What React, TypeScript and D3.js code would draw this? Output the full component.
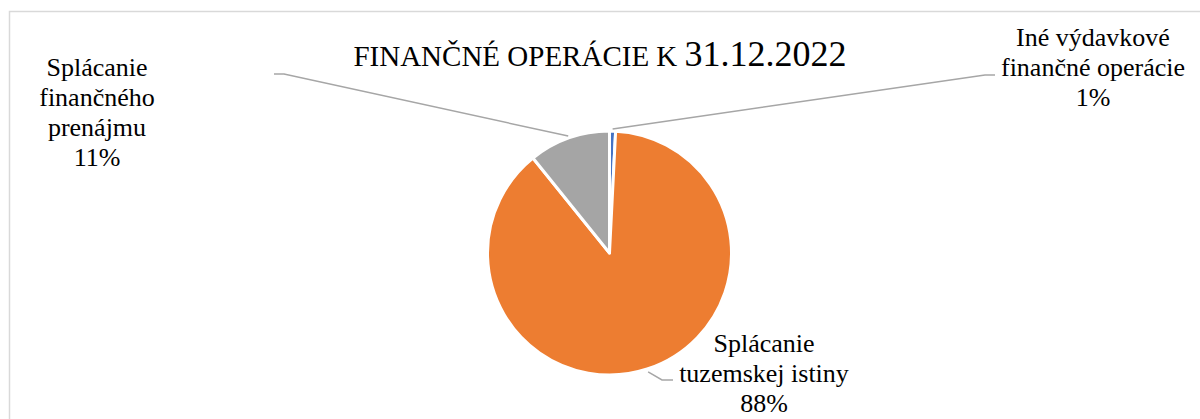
import React, { useEffect, useRef } from 'react';
import * as d3 from 'd3';

// Slice order is clockwise from 12 o'clock
const categories = [
  ['Iné výdavkové', 'finančné operácie'],
  ['Splácanie', 'tuzemskej istiny'],
  ['Splácanie', 'finančného', 'prenájmu'],
];
const shares = [0.8, 88.4, 10.8];
const colors = ['#4472C4', '#ED7D31', '#A5A5A5'];

const titleCaps = 'FINANČNÉ OPERÁCIE K ';
const titleDate = '31.12.2022';

const FONT = "'Liberation Serif'";

const App: React.FC = () => {
  const svgRef = useRef<SVGSVGElement>(null);

  useEffect(() => {
    if (!svgRef.current) return;
    const width = 1200;
    const height = 419;
    const svg = d3.select(svgRef.current);
    svg.selectAll('*').remove();

    // Chart frame (right and bottom edges fall outside the picture)
    svg.append('rect')
      .attr('x', 9.5)
      .attr('y', 11.5)
      .attr('width', 1300)
      .attr('height', 500)
      .style('fill', '#fff')
      .style('stroke', '#d9d9d9')
      .style('stroke-width', 1.5);

    // Title: small caps words, full-size date
    const title = svg.append('text')
      .attr('x', 600)
      .attr('y', 66)
      .attr('text-anchor', 'middle')
      .attr('font-family', FONT)
      .attr('fill', '#000');
    title.append('tspan').attr('font-size', 29).text(titleCaps);
    title.append('tspan').attr('font-size', 36).text(titleDate);

    const cx = 609.5;
    const cy = 253;
    const radius = 122;

    const pie = d3.pie<number>().sort(null).value(d => d);
    const arcs = pie(shares);
    const arc = d3.arc<d3.PieArcDatum<number>>().innerRadius(0).outerRadius(radius);

    const g = svg.append('g').attr('transform', `translate(${cx},${cy})`);

    g.selectAll('path.slice')
      .data(arcs)
      .enter()
      .append('path')
      .attr('class', 'slice')
      .attr('d', arc)
      .style('fill', (_, i) => colors[i])
      .style('stroke', '#fff')
      .style('stroke-width', 3)
      .style('stroke-linejoin', 'round');

    // Leader lines: start just outside each slice's mid angle
    const edgePoint = (d: d3.PieArcDatum<number>, r: number): [number, number] => {
      const a = (d.startAngle + d.endAngle) / 2;
      return [cx + Math.sin(a) * r, cy - Math.cos(a) * r];
    };

    const leaderEnds: [number, number][][] = [
      [[985, 75], [995, 75]],
      [[662, 380], [673, 380]],
      [[284, 74], [274, 74]],
    ];

    const line = d3.line();
    arcs.forEach((d, i) => {
      const pts: [number, number][] = [edgePoint(d, i === 1 ? 125 : 124), ...leaderEnds[i]];
      svg.append('path')
        .attr('d', line(pts))
        .style('fill', 'none')
        .style('stroke', '#a6a6a6')
        .style('stroke-width', 1.5);
    });

    // Data labels
    const labelPos = [
      { x: 1093, y: 46 },
      { x: 764, y: 352 },
      { x: 97, y: 76 },
    ];
    const lineGap = 30;

    arcs.forEach((d, i) => {
      const lines = [...categories[i], `${Math.round(d.data)}%`];
      lines.forEach((s, k) => {
        svg.append('text')
          .attr('x', labelPos[i].x)
          .attr('y', labelPos[i].y + k * lineGap)
          .attr('text-anchor', 'middle')
          .attr('font-family', FONT)
          .attr('font-size', 26)
          .attr('fill', '#000')
          .text(s);
      });
    });

    svg.attr('width', width).attr('height', height);
  }, []);

  return (
    <svg
      ref={svgRef}
      width={1200}
      height={419}
      style={{ position: 'absolute', left: 0, top: 0, background: '#fff' }}
    />
  );
};

export default App;
